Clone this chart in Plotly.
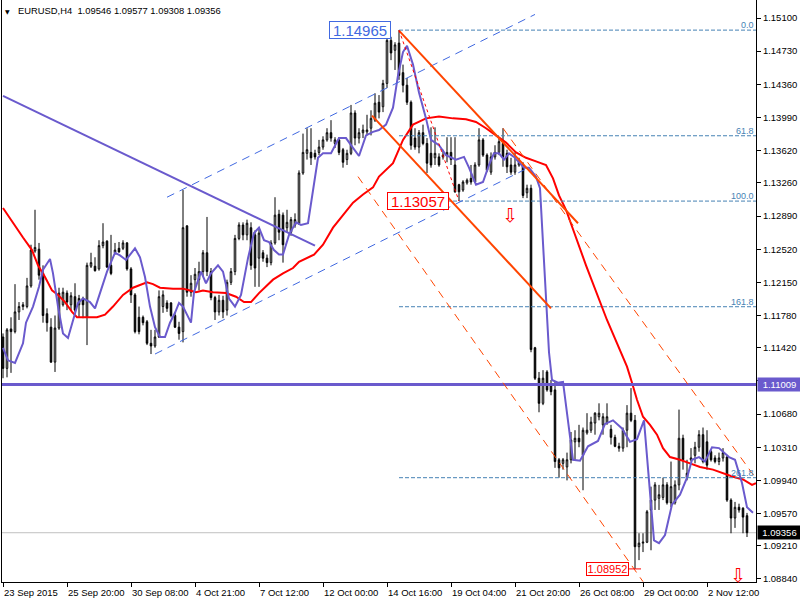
import plotly.graph_objects as go

# ---------------- data ----------------
bars = list(range(187))
opens = [1.1154,1.1119,1.1163,1.1160,1.1182,1.1188,1.1188,1.1211,1.1250,1.1252,
         1.1225,1.1180,1.1165,1.1126,1.1164,1.1190,1.1203,1.1190,1.1199,1.1190,
         1.1197,1.1176,1.1233,1.1233,1.1230,1.1256,1.1261,1.1234,1.1248,1.1253,
         1.1253,1.1259,1.1230,1.1201,1.1176,1.1176,1.1171,1.1147,1.1144,1.1154,
         1.1188,1.1192,1.1192,1.1178,1.1165,1.1160,1.1278,1.1204,1.1218,1.1218,
         1.1227,1.1248,1.1227,1.1198,1.1182,1.1195,1.1184,1.1215,1.1227,1.1264,
         1.1279,1.1268,1.1276,1.1268,1.1242,1.1248,1.1242,1.1237,1.1259,1.1291,
         1.1290,1.1276,1.1271,1.1279,1.1281,1.1337,1.1359,1.1360,1.1359,1.1360,
         1.1366,1.1374,1.1382,1.1370,1.1374,1.1363,1.1352,1.1359,1.1404,1.1376,
         1.1382,1.1383,1.1387,1.1396,1.1416,1.1411,1.1437,1.1485,1.1474,1.1482,
         1.1449,1.1435,1.1416,1.1376,1.1366,1.1382,1.1370,1.1359,1.1354,1.1355,
         1.1355,1.1357,1.1360,1.1346,1.1324,1.1318,1.1326,1.1331,1.1327,1.1346,
         1.1374,1.1357,1.1338,1.1355,1.1360,1.1370,1.1359,1.1346,1.1338,1.1346,
         1.1346,1.1315,1.1320,1.1142,1.1108,1.1080,1.1115,1.1100,1.1095,1.1017,
         1.1013,1.1009,1.1017,1.1037,1.1041,1.1022,1.1047,1.1050,1.1058,1.1065,
         1.1056,1.1058,1.1051,1.1042,1.1032,1.1030,1.1050,1.1069,1.1061,1.0920,
         1.0924,1.0925,1.0961,1.0972,1.0974,1.0975,1.0989,1.0969,1.0969,1.0989,
         1.1041,1.0997,1.1017,1.1022,1.1031,1.1045,1.1037,1.1026,1.1019,1.1015,
         1.1019,1.1020,1.0972,1.0952,1.0964,1.0963,1.09546]
highs = [1.1158,1.1164,1.1176,1.1213,1.1193,1.1193,1.1220,1.1257,1.1296,1.1259,
         1.1234,1.1186,1.1175,1.1178,1.1209,1.1209,1.1206,1.1204,1.1214,1.1201,
         1.1199,1.1237,1.1248,1.1243,1.1262,1.1281,1.1262,1.1268,1.1259,1.1260,
         1.1262,1.1260,1.1232,1.1203,1.1188,1.1178,1.1173,1.1162,1.1162,1.1206,
         1.1206,1.1195,1.1193,1.1182,1.1171,1.1318,1.1279,1.1223,1.1231,1.1238,
         1.1251,1.1288,1.1231,1.1200,1.1201,1.1200,1.1218,1.1231,1.1268,1.1282,
         1.1282,1.1285,1.1282,1.1273,1.1276,1.1251,1.1246,1.1262,1.1310,1.1296,
         1.1293,1.1296,1.1288,1.1292,1.1340,1.1381,1.1387,1.1387,1.1363,1.1374,
         1.1378,1.1387,1.1396,1.1377,1.1377,1.1365,1.1363,1.1413,1.1407,1.1387,
         1.1391,1.1402,1.1407,1.1426,1.1424,1.1441,1.1488,1.1489,1.1483,1.14965,
         1.1458,1.1443,1.1418,1.1387,1.1385,1.1391,1.1376,1.1388,1.1388,1.1359,
         1.1363,1.1377,1.1377,1.1377,1.1325,1.1329,1.1331,1.1346,1.1349,1.1387,
         1.1376,1.1359,1.1360,1.1368,1.1377,1.1387,1.1363,1.1354,1.1360,1.1354,
         1.1349,1.1324,1.1324,1.1143,1.1115,1.1117,1.1117,1.1106,1.1104,1.1019,
         1.1019,1.1025,1.1048,1.1050,1.1056,1.1053,1.1069,1.1065,1.1070,1.1080,
         1.1069,1.1080,1.1056,1.1045,1.1036,1.1053,1.1078,1.1097,1.1067,1.0935,
         1.0935,1.0961,1.0987,1.0992,1.0989,1.0997,1.0992,1.1015,1.0994,1.1073,
         1.1045,1.1017,1.1030,1.1037,1.1050,1.1053,1.1050,1.1028,1.1022,1.1025,
         1.1030,1.1022,1.0974,1.0970,1.0968,1.0964,1.09577]
lows = [1.1108,1.1109,1.1114,1.1158,1.1173,1.1184,1.1186,1.1209,1.1248,1.1218,
        1.1170,1.1160,1.1125,1.1115,1.1162,1.1188,1.1184,1.1184,1.1182,1.1176,
        1.1175,1.1145,1.1231,1.1227,1.1228,1.1253,1.1231,1.1223,1.1246,1.1248,
        1.1251,1.1228,1.1192,1.1158,1.1157,1.1167,1.1145,1.1135,1.1142,1.1153,
        1.1181,1.1182,1.1176,1.1164,1.1151,1.1148,1.1199,1.1199,1.1206,1.1206,
        1.1222,1.1222,1.1195,1.1173,1.1178,1.1175,1.1178,1.1212,1.1223,1.1262,
        1.1262,1.1262,1.1229,1.1210,1.1210,1.1238,1.1232,1.1234,1.1257,1.1262,
        1.1237,1.1271,1.1267,1.1276,1.1279,1.1335,1.1352,1.1346,1.1352,1.1357,
        1.1363,1.1372,1.1372,1.1365,1.1357,1.1343,1.1346,1.1357,1.1368,1.1370,
        1.1376,1.1379,1.1379,1.1394,1.1398,1.1405,1.1432,1.1463,1.1452,1.1441,
        1.1427,1.1413,1.1363,1.1363,1.1359,1.1368,1.1337,1.1343,1.1346,1.1344,
        1.1352,1.1349,1.1346,1.1315,1.13057,1.1316,1.1324,1.1324,1.1326,1.1344,
        1.1355,1.1338,1.1335,1.1352,1.1357,1.1344,1.1337,1.1335,1.1335,1.1344,
        1.1309,1.1309,1.1137,1.1106,1.1070,1.1078,1.1093,1.1089,1.1008,1.0997,
        1.1006,1.0994,1.1013,1.1017,1.1031,1.0983,1.1045,1.1047,1.1045,1.1061,
        1.1045,1.1056,1.1034,1.1031,1.1026,1.1026,1.1031,1.1059,1.08952,1.0905,
        1.0914,1.0924,1.0916,1.0961,1.0961,1.0972,1.0967,1.0964,1.0967,1.0983,
        1.1006,1.0994,1.1015,1.1013,1.1026,1.1013,1.1006,1.1015,1.1013,1.1011,
        1.1015,1.0970,1.0935,1.0941,1.0958,1.0935,1.09308]
closes = [1.1119,1.1162,1.1160,1.1182,1.1188,1.1190,1.1211,1.1251,1.1254,1.1223,
          1.1178,1.1170,1.1126,1.1164,1.1203,1.1204,1.1193,1.1200,1.1184,1.1197,
          1.1190,1.1234,1.1237,1.1228,1.1256,1.1260,1.1232,1.1225,1.1251,1.1249,
          1.1259,1.1230,1.1201,1.1160,1.1160,1.1170,1.1147,1.1144,1.1154,1.1199,
          1.1201,1.1186,1.1178,1.1165,1.1158,1.1276,1.1204,1.1214,1.1224,1.1227,
          1.1248,1.1227,1.1198,1.1182,1.1195,1.1182,1.1215,1.1227,1.1264,1.1279,
          1.1268,1.1281,1.1234,1.1231,1.1270,1.1242,1.1237,1.1259,1.1290,1.1271,
          1.1257,1.1282,1.1285,1.1285,1.1337,1.1360,1.1363,1.1354,1.1355,1.1366,
          1.1374,1.1382,1.1376,1.1374,1.1360,1.1349,1.1359,1.1404,1.1376,1.1382,
          1.1385,1.1385,1.1398,1.1415,1.1405,1.1437,1.1485,1.1471,1.1480,1.1446,
          1.1435,1.1416,1.1368,1.1366,1.1382,1.1370,1.1348,1.1346,1.1359,1.1346,
          1.1357,1.1360,1.1352,1.1316,1.1316,1.1327,1.1329,1.1327,1.1346,1.1374,
          1.1357,1.1340,1.1355,1.1360,1.1372,1.1355,1.1344,1.1338,1.1346,1.1349,
          1.1312,1.1320,1.1140,1.1108,1.1080,1.1108,1.1095,1.1093,1.1015,1.1008,
          1.1017,1.1017,1.1039,1.1041,1.1037,1.1050,1.1050,1.1059,1.1069,1.1069,
          1.1065,1.1065,1.1042,1.1032,1.1030,1.1050,1.1069,1.1061,1.0920,1.0924,
          1.0925,1.0959,1.0972,1.0989,1.0978,1.0989,1.0969,1.0987,1.0989,1.1041,
          1.1017,1.1002,1.1019,1.1031,1.1045,1.1015,1.1011,1.1017,1.1015,1.1019,
          1.1025,1.0972,1.0952,1.0964,1.0961,1.0953,1.09356]

fast_ma_x = [0,1.25,3,5,5.75,7.5,9,10,11.75,12.5,13.75,15,16.25,17.5,18.75,20,21.75,23,24.25,26,
             28,29.25,30.75,33,34.25,35.5,36.75,38,39.25,40.5,41.75,43,44,45,46,47,47.75,49.5,50.75,52,
             53.75,55,56.5,58,59.5,61.25,62.75,64,65.25,66.5,67.75,69,70,71.5,73.25,74.5,76.25,77.5,78.75,80,
             82,84,85.75,87.5,89,90.75,92.5,94,95.75,97.5,98.75,100,101,102.5,104,105.75,107,109,110.75,113.25,
             115.25,116.5,118.25,120,121.5,122.75,124,125.25,126.5,127.75,129,130.25,131.5,133.25,134.25,135,135.75,136.5,137.25,138.75,
             140,141.25,142.5,144.25,146.25,148.75,150.5,152.5,154.75,156.75,158.5,160.25,161.5,162.75,164,165.5,167.25,169.25,171,172.25,
             174,175.5,177.25,179,181.5,183,184.75,186,187.5]
fast_ma_y = [1.1142,1.1128,1.1125,1.1147,1.1170,1.1188,1.1210,1.1229,1.1241,1.1225,1.1188,1.1158,1.1153,1.1173,1.1192,1.1197,1.1193,1.1186,1.1203,1.1227,
             1.1248,1.1245,1.1240,1.1253,1.1243,1.1221,1.1188,1.1165,1.1154,1.1154,1.1170,1.1181,1.1192,1.1188,1.1179,1.1170,1.1204,1.1227,1.1214,1.1225,
             1.1234,1.1227,1.1197,1.1188,1.1201,1.1242,1.1270,1.1276,1.1262,1.1260,1.1251,1.1246,1.1246,1.1268,1.1282,1.1279,1.1281,1.1316,1.1354,1.1359,
             1.1359,1.1376,1.1376,1.1365,1.1356,1.1379,1.1383,1.1385,1.1391,1.1410,1.1446,1.1472,1.1479,1.1458,1.1427,1.1398,1.1374,1.1368,1.1357,1.1352,
             1.1355,1.1343,1.1324,1.1327,1.1346,1.1359,1.1359,1.1352,1.1359,1.1355,1.1349,1.1343,1.1343,1.1333,1.1320,1.1260,1.1198,1.1137,1.1106,1.1103,
             1.1104,1.1061,1.1017,1.1016,1.1032,1.1038,1.1057,1.1061,1.1052,1.1037,1.1040,1.1061,1.0989,1.0927,1.0924,1.0933,1.0967,1.0978,1.0997,1.1017,
             1.1020,1.1015,1.1031,1.1030,1.1020,1.1017,1.0991,1.0964,1.0958]

slow_ma_x = [0,2.5,5,7.25,8.75,10.5,12.25,13.75,15.5,17.25,18.5,21,23.5,25.5,27.5,30,32.5,34.25,36,37.5,
             39.25,42.5,45,46.75,48.25,50,52.5,55.75,58.25,60.25,62,64,67.5,70,72.5,74,75.75,77.75,80,82.5,
             85,87.5,90,92.5,94,97.5,100,102.5,105.75,109,112.5,115.75,118.25,120.75,123.25,125.75,128.25,130.75,133.25,135.75,
             137.5,139,140.75,145.75,151,153.5,156,157.25,158.5,160,161.75,163.5,165,166.75,169.25,171.75,174.25,177.5,180,182.5,
             185,187.25,188.25]
slow_ma_y = [1.1298,1.1281,1.1265,1.1251,1.1234,1.1221,1.1206,1.1201,1.1193,1.1182,1.1176,1.1176,1.1176,1.1179,1.1188,1.1201,1.1209,1.1212,1.1215,1.1213,
             1.1209,1.1208,1.1208,1.1206,1.1204,1.1206,1.1204,1.1203,1.1199,1.1193,1.1193,1.1203,1.1218,1.1225,1.1231,1.1238,1.1242,1.1246,1.1257,1.1276,
             1.1290,1.1304,1.1313,1.1321,1.1333,1.1348,1.1374,1.1391,1.1398,1.1400,1.1398,1.1397,1.1394,1.1387,1.1379,1.1371,1.1360,1.1354,1.1350,1.1346,
             1.1331,1.1312,1.1296,1.1234,1.1173,1.1147,1.1121,1.1103,1.1084,1.1065,1.1056,1.1045,1.1030,1.1020,1.1017,1.1013,1.1009,1.1006,1.1002,1.0998,
             1.0995,1.0989,1.0991]

price_ticks = [1.15100,1.14730,1.14360,1.13990,1.13620,1.13260,1.12890,1.12520,1.12150,
               1.11780,1.11420,1.11050,1.10680,1.10310,1.09940,1.09570,1.09210,1.08840]
hidden_tick = 1.11050  # covered by the 1.11009 level box in the reference
time_tick_bars = [0,16,32,48,64,80,96,112,128,144,160,176]
time_tick_labels = ["23 Sep 2015","25 Sep 20:00","30 Sep 08:00","4 Oct 21:00","7 Oct 12:00",
                    "12 Oct 00:00","14 Oct 16:00","19 Oct 04:00","21 Oct 20:00","26 Oct 08:00",
                    "29 Oct 00:00","2 Nov 12:00"]

fib_names = ["0.0","61.8","100.0","161.8","261.8"]
fib_prices = [1.14965,1.13786,1.13057,1.11878,1.09970]
fib_start_bar = 99

level_price = 1.11009
bid_price = 1.09356
swing_high, swing_high_bar = 1.14965, 97
swing_low, swing_low_bar = 1.13057, 111.5
spike_low, spike_low_bar = 1.08952, 156.5

# trend lines: (bar0, price0, bar1, price1)
thick_trend = (0, 1.1423, 78, 1.1256)
blue_chan_up = (41, 1.1310, 133, 1.1514)
blue_chan_low = (38, 1.1135, 130.5, 1.1341)
orange_a = (99, 1.1496, 143.75, 1.1281)
orange_b = (92.25, 1.1401, 137, 1.1186)
orange_dash_a = (88.75, 1.1333, 160, 1.0881)
orange_dash_b = (125, 1.1387, 188.25, 1.0996)
fib_diag = (99, 1.14965, 114, 1.13057)
arrows = [(126.75, 1.1290), (183.75, 1.0888)]

X_MIN, X_MAX = -0.25, 188.25
Y_MIN, Y_MAX = 1.08806, 1.15301
FONT = "Liberation Sans"
SLATE = "#6A5ACD"
ORANGE = "#FF4500"
FIBC = "#4682B4"
CHANC = "#4169E1"

fig = go.Figure()
fig.add_trace(go.Candlestick(
    x=bars, open=opens, high=highs, low=lows, close=closes,
    increasing=dict(line=dict(color="black", width=1), fillcolor="white"),
    decreasing=dict(line=dict(color="black", width=1), fillcolor="black"),
    whiskerwidth=0, hoverinfo="skip", showlegend=False))
fig.add_trace(go.Scatter(x=slow_ma_x, y=slow_ma_y, mode="lines",
                         line=dict(color="#FF0000", width=2), hoverinfo="skip"))
fig.add_trace(go.Scatter(x=fast_ma_x, y=fast_ma_y, mode="lines",
                         line=dict(color=SLATE, width=2), hoverinfo="skip"))

shapes = []
def seg(spec, color, width, dash="solid"):
    x0, y0, x1, y1 = spec
    shapes.append(dict(type="line", xref="x", yref="y", x0=x0, y0=y0, x1=x1, y1=y1,
                       line=dict(color=color, width=width, dash=dash), layer="above"))

shapes.append(dict(type="line", xref="paper", yref="y", x0=0, x1=1, y0=bid_price, y1=bid_price,
                   line=dict(color="#C0C0C0", width=1), layer="below"))
shapes.append(dict(type="line", xref="paper", yref="y", x0=0, x1=1, y0=level_price, y1=level_price,
                   line=dict(color=SLATE, width=3), layer="above"))
for p in fib_prices:
    seg((fib_start_bar, p, X_MAX, p), FIBC, 1, "4px,2px")
seg(thick_trend, SLATE, 2)
seg(blue_chan_up, CHANC, 1, "8px,6px")
seg(blue_chan_low, CHANC, 1, "8px,6px")
seg(orange_a, ORANGE, 2)
seg(orange_b, ORANGE, 2)
seg(orange_dash_a, ORANGE, 1, "8px,6px")
seg(orange_dash_b, ORANGE, 1, "8px,6px")
seg(fib_diag, "#FF0000", 1, "3px,3px")
seg((spike_low_bar, spike_low, spike_low_bar + 3, spike_low), "#FF0000", 1)

ann = []
for b, t in zip(time_tick_bars, time_tick_labels):
    ann.append(dict(x=b, xref="x", y=0, yref="paper", text=t, showarrow=False,
                    xanchor="left", yanchor="top", xshift=-1, yshift=-3,
                    font=dict(family=FONT, size=9.5, color="black")))
for n, p in zip(fib_names, fib_prices):
    ann.append(dict(x=X_MAX, xref="x", y=p, yref="y", text=n, showarrow=False,
                    xanchor="right", yanchor="bottom", yshift=-2,
                    font=dict(family=FONT, size=9, color=FIBC)))
ann.append(dict(x=swing_high_bar, xref="x", y=swing_high, yref="y", text="1.14965",
                showarrow=False, xanchor="right", yanchor="middle", width=60, height=16,
                borderpad=0, bordercolor=CHANC, borderwidth=1, bgcolor="white",
                font=dict(family=FONT, size=15, color=CHANC)))
ann.append(dict(x=swing_low_bar, xref="x", y=swing_low, yref="y", text="1.13057",
                showarrow=False, xanchor="right", yanchor="middle", width=60, height=16,
                borderpad=0, bordercolor="#FF0000", borderwidth=1, bgcolor="white",
                font=dict(family=FONT, size=15, color="#FF0000")))
ann.append(dict(x=spike_low_bar, xref="x", y=spike_low, yref="y", text="1.08952",
                showarrow=False, xanchor="right", yanchor="middle", width=41, height=12,
                borderpad=0, bordercolor="#FF0000", borderwidth=1, bgcolor="white",
                font=dict(family=FONT, size=11, color="#FF0000")))
for ax_, ay_ in arrows:
    ann.append(dict(x=ax_, xref="x", y=ay_, yref="y", text="\u21e9", showarrow=False,
                    xanchor="center", yanchor="middle",
                    font=dict(family="DejaVu Sans", size=19, color="#FF0000")))
ann.append(dict(x=1, xref="paper", y=level_price, yref="y", text="1.11009", showarrow=False,
                xanchor="left", yanchor="middle", xshift=1, width=43, height=13, borderpad=0,
                bgcolor=SLATE, font=dict(family=FONT, size=9.5, color="white")))
ann.append(dict(x=1, xref="paper", y=bid_price, yref="y", text="1.09356", showarrow=False,
                xanchor="left", yanchor="middle", xshift=1, width=43, height=13, borderpad=0,
                bgcolor="black", font=dict(family=FONT, size=9.5, color="white")))
ann.append(dict(x=0, xref="paper", y=1, yref="paper", text="\u25bc", showarrow=False,
                xanchor="left", yanchor="top", xshift=1, yshift=-6,
                font=dict(family="DejaVu Sans", size=6, color="black")))
ann.append(dict(x=0, xref="paper", y=1, yref="paper",
                text="EURUSD,H4\u00a0\u00a01.09546 1.09577 1.09308 1.09356", showarrow=False,
                xanchor="left", yanchor="top", xshift=14, yshift=-3,
                font=dict(family=FONT, size=9.4, color="black")))

tick_text = ["" if abs(v - hidden_tick) < 1e-9 else f"{v:.5f}" for v in price_ticks]

fig.update_layout(
    width=800, height=600, margin=dict(l=2, r=44, t=0, b=18, autoexpand=False),
    paper_bgcolor="white", plot_bgcolor="white", showlegend=False, boxgap=0.45,
    font=dict(family=FONT, size=9.5, color="black"),
    shapes=shapes, annotations=ann,
    xaxis=dict(range=[X_MIN, X_MAX], showgrid=False, zeroline=False, showline=True,
               linecolor="black", linewidth=1, ticks="outside", ticklen=4, tickcolor="black",
               tickvals=time_tick_bars, showticklabels=False,
               rangeslider=dict(visible=False), fixedrange=True),
    yaxis=dict(range=[Y_MIN, Y_MAX], side="right", showgrid=False, zeroline=False,
               showline=True, mirror=True, linecolor="black", linewidth=1,
               ticks="outside", ticklen=4, tickcolor="black",
               tickvals=price_ticks, ticktext=tick_text,
               tickfont=dict(family=FONT, size=9.5, color="black"), fixedrange=True),
)

fig.write_html("out.html", config={"displayModeBar": False},
               post_script="document.body.style.margin='0px';document.body.style.overflow='hidden';")
